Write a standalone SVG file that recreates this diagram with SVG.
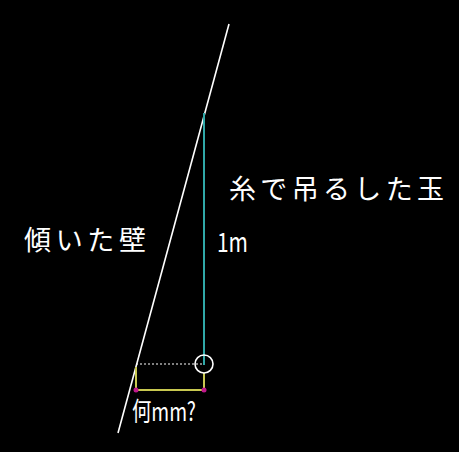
<svg xmlns="http://www.w3.org/2000/svg" width="459" height="452" viewBox="0 0 459 452">
<style>
text{fill:#fff;font-family:"Noto Sans CJK JP","Noto Sans",sans-serif;}
.big{font-size:27px;}
.mid{font-size:26px;}
</style>
<rect width="459" height="452" fill="#000"/>
<g id="connectors">
<line x1="229" y1="24" x2="118" y2="433" stroke="#fff" stroke-width="1.6"/>
<line x1="204" y1="113" x2="204" y2="365" stroke="#30a8a8" stroke-width="2"/>
<line x1="136" y1="364" x2="203" y2="364" stroke="#fff" stroke-width="1" stroke-dasharray="2,2"/>
<polyline points="136,367 136,390 204,390 204,373" fill="none" stroke="#c8c850" stroke-width="2"/>
</g>
<g id="ball"><circle cx="204" cy="364" r="9" fill="none" stroke="#fff" stroke-width="1.6"/></g>
<g id="points">
<circle cx="136" cy="390" r="2.5" fill="#c0188c"/>
<circle cx="204" cy="390" r="2.5" fill="#c0188c"/>
</g>
<g id="label-ball"><text class="big" x="229" y="199" textLength="215" lengthAdjust="spacing">糸で吊るした玉</text></g>
<g id="label-wall"><text class="big" x="24" y="250" textLength="122" lengthAdjust="spacing">傾いた壁</text></g>
<g id="label-len"><text class="big" x="217" y="252" textLength="31" lengthAdjust="spacingAndGlyphs">1m</text></g>
<g id="label-q"><text class="mid" x="132" y="421" textLength="64" lengthAdjust="spacingAndGlyphs">何mm?</text></g>
</svg>
